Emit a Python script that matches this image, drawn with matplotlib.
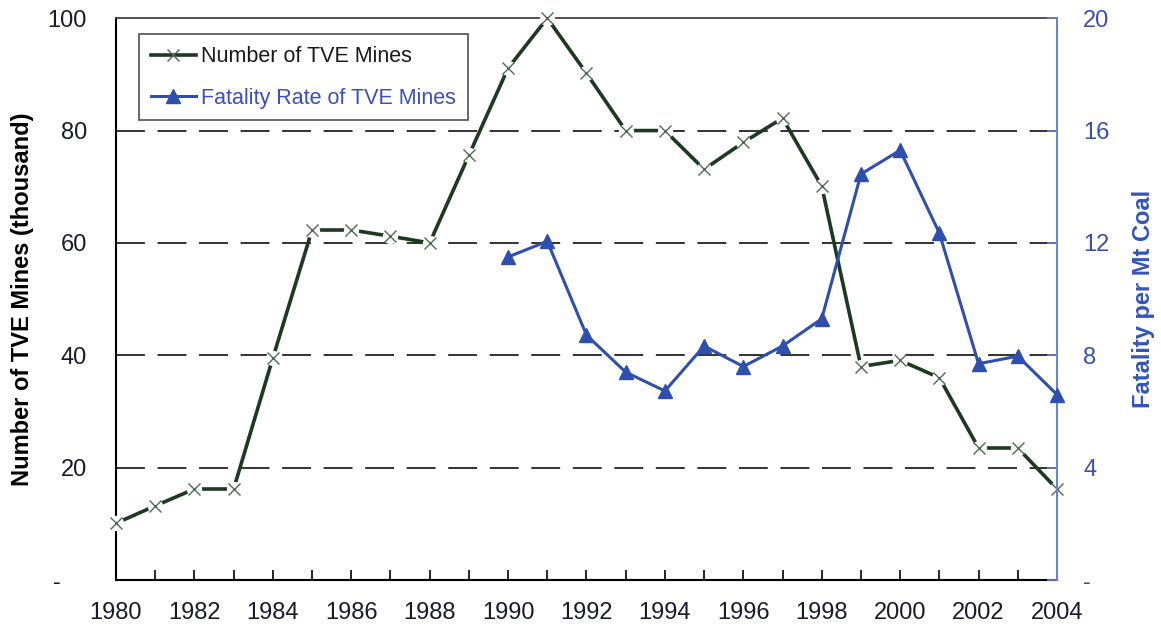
import numpy as np
import matplotlib
matplotlib.use("Agg")
import matplotlib.pyplot as plt
from matplotlib.ticker import FuncFormatter
from matplotlib.lines import Line2D

plt.rcParams["font.family"] = ["Liberation Sans", "DejaVu Sans"]

years = list(range(1980, 2005))
mines = [10.1, 13.2, 16.2, 16.2, 39.5, 62.3, 62.3, 61.2, 60.0, 75.6, 91.1, 100.0,
         90.2, 80.0, 80.0, 73.1, 77.9, 82.2, 70.1, 38.0, 39.1, 36.0, 23.5, 23.5, 16.2]
rate_years = list(range(1990, 2005))
rate = [11.5, 12.06, 8.72, 7.4, 6.73, 8.33, 7.6, 8.33, 9.3, 14.45, 15.3, 12.35,
        7.7, 7.97, 6.6]

GREEN = "#1b3a1f"
BLUE = "#2f4fae"
BLUE_AX = "#6a82cc"
LBL = "#1a1a2e"

fig = plt.figure(figsize=(11.61, 6.28), dpi=100)
ax = fig.add_axes([0.0999, 0.0764, 0.8105, 0.8946])
ax2 = ax.twinx()

# left axis: mines
ax.set_xlim(1980, 2004)
ax.set_ylim(0, 100)
ax.set_yticks([0, 20, 40, 60, 80, 100])
ax.yaxis.set_major_formatter(FuncFormatter(lambda v, p: "-    " if v == 0 else f"{v:.0f}"))
ax.set_xticks(range(1980, 2005, 2))
ax.set_xticks(range(1980, 2005), minor=True)
ax.tick_params(axis="x", which="both", direction="in", length=7, width=1.2,
               labelsize=17, labelcolor=LBL, pad=16)
ax.tick_params(axis="y", length=0, labelsize=17, labelcolor=LBL, pad=21)
for v in [20, 40, 60, 80]:
    ax.axhline(v, color="#222222", lw=1.3, dashes=(16, 7), zorder=1)

ax.plot(years, mines, color=GREEN, lw=2.6, zorder=3, solid_capstyle="butt")
ax.plot(years, mines, ls="none", marker="o", ms=11, mfc="white", mec="none",
        zorder=4, clip_on=False)
ax.plot(years, mines, ls="none", marker="x", ms=8, mew=1.0, color="#4f6a55",
        zorder=5, clip_on=False)

ax.set_ylabel("Number of TVE Mines (thousand)", fontsize=17, fontweight="bold",
              color="black", labelpad=10)

for s in ["left", "bottom"]:
    ax.spines[s].set_color("black")
    ax.spines[s].set_linewidth(1.5)
ax.spines["top"].set_color("#444444")
ax.spines["top"].set_linewidth(1.3)
ax.spines["right"].set_visible(False)

# right axis: fatality rate
ax2.set_ylim(0, 20)
ax2.set_yticks([0, 4, 8, 12, 16, 20])
ax2.yaxis.set_major_formatter(FuncFormatter(lambda v, p: "-" if v == 0 else f"{v:.0f}"))
ax2.tick_params(axis="y", direction="in", length=7, width=1.2, color=BLUE_AX,
                labelsize=17, labelcolor="#3a4fae", pad=19)
ax2.plot(rate_years, rate, color=BLUE, lw=2.2, marker="^", ms=10, zorder=3,
         clip_on=False)
ax2.set_ylabel("Fatality per Mt Coal", fontsize=17, fontweight="bold",
               color="#3355bb", labelpad=16)
ax2.spines["right"].set_color(BLUE_AX)
ax2.spines["right"].set_linewidth(1.5)
for s in ["left", "bottom", "top"]:
    ax2.spines[s].set_visible(False)

# legend
h1 = Line2D([], [], color=GREEN, lw=2.6, marker="x", ms=8, mew=1.0,
            mec="#4f6a55")
h2 = Line2D([], [], color=BLUE, lw=2.2, marker="^", ms=10)
leg = ax2.legend([h1, h2], ["Number of TVE Mines", "Fatality Rate of TVE Mines"],
                 loc="upper left", bbox_to_anchor=(0.0244, 0.9715), fontsize=15.5,
                 frameon=True, fancybox=False, edgecolor="#222222",
                 handlelength=2.1, handletextpad=0.25, labelspacing=0.95,
                 borderpad=0.55, borderaxespad=0)
leg.get_frame().set_linewidth(1.2)
leg.get_texts()[0].set_color("#1a1a1a")
leg.get_texts()[1].set_color("#3a4fc0")

fig.savefig("out.png", dpi=100)
